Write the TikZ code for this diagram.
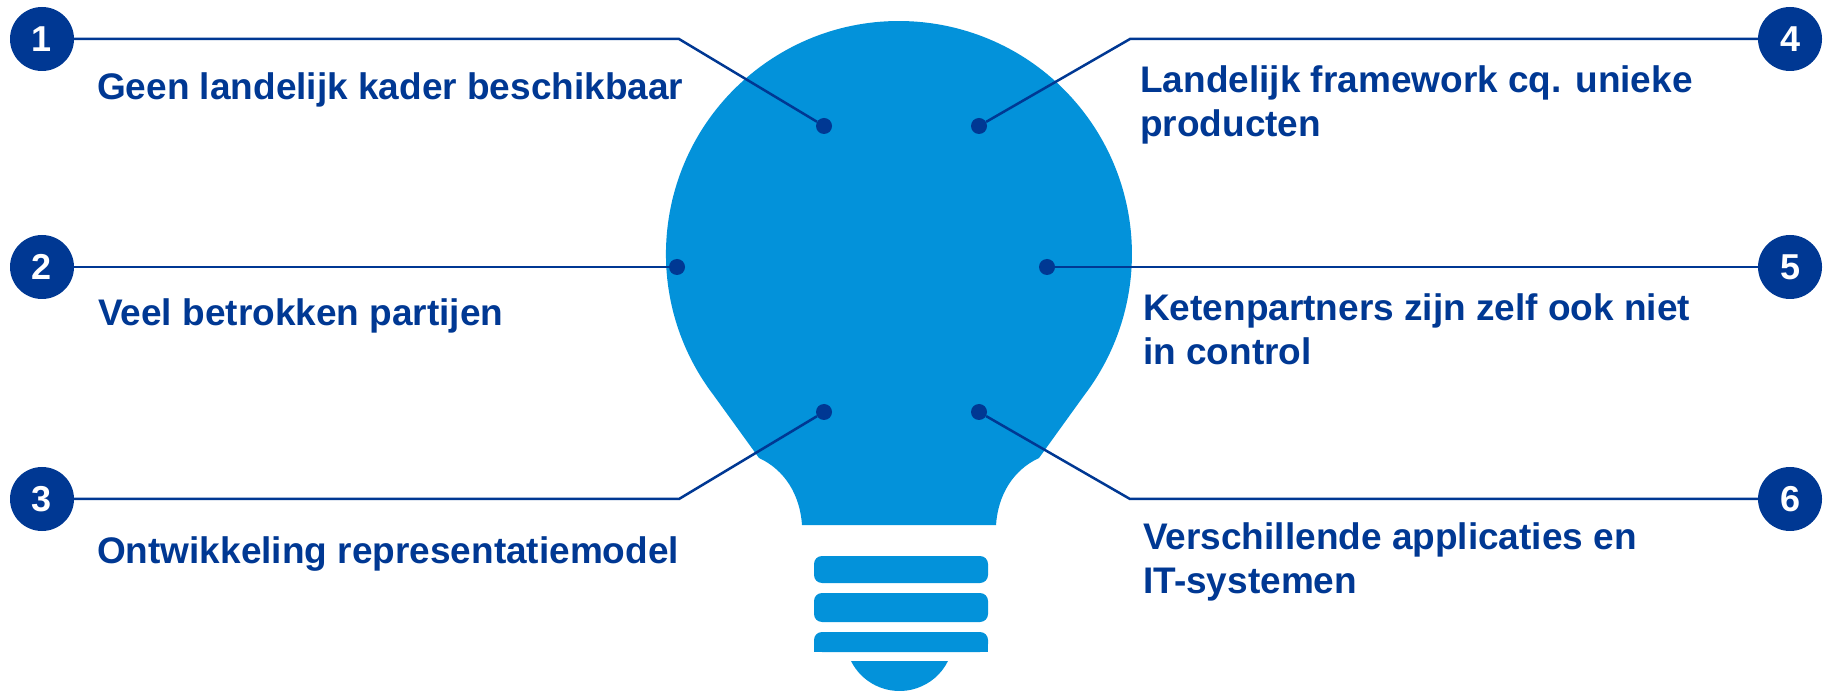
\documentclass[tikz,border=0pt]{standalone}
\usepackage{fontspec}
\setmainfont{Liberation Sans}
\usepackage{tikz}

\definecolor{bulbblue}{RGB}{3,146,218}
\definecolor{darkblue}{RGB}{0,56,147}

\begin{document}
\begin{tikzpicture}[x=1pt, y=1pt,
  numcirc/.style={circle, fill=darkblue, text=white, minimum size=64pt, inner sep=0pt, font=\bfseries\fontsize{36}{36}\selectfont},
  enddot/.style={circle, fill=darkblue, minimum size=16pt, inner sep=0pt},
  link/.style={darkblue, line width=2.5pt},
  itemtext/.style={anchor=base west, inner sep=0pt, align=left, text=darkblue, font=\bfseries\fontsize{37}{44}\selectfont}]

\useasboundingbox (0,0) rectangle (1830,691);

% Draw the bulb
\fill[bulbblue] (802,166) .. controls (800,196) and (785,221) .. (759,233)
  -- (713.6,295.8) arc[start angle=217.3, end angle=-37.3, radius=233]
  -- (1039,233) .. controls (1013,221) and (998,196) .. (996,166) -- cycle;

% Draw the screw base
\fill[bulbblue, rounded corners=8] (814,108) rectangle (988,135);
\fill[bulbblue, rounded corners=8] (814,69) rectangle (988,98);
\fill[bulbblue, rounded corners=8] (814,39) rectangle (988,59);
\fill[bulbblue] (814,39) rectangle (988,49);
\fill[bulbblue] (948,30) arc[start angle=-26.5, end angle=-153.5, radius=54.2] -- cycle;

% Numbered circles and dots
\foreach \i/\x/\y in {1/42/652, 2/42/424, 3/42/192, 4/1790/652, 5/1790/424, 6/1790/192}
  \node[numcirc] (n\i) at (\x,\y) {\i};
\foreach \i/\x/\y in {1/824/565, 2/677/424, 3/824/279, 4/979/565, 5/1047/424, 6/979/279}
  \node[enddot] (d\i) at (\x,\y) {};

% Bends of the lines
\coordinate (k1) at (679,652);
\coordinate (k3) at (679,192);
\coordinate (k4) at (1130,652);
\coordinate (k6) at (1130,192);

% Draw the lines
\draw[link] (n1) -- (k1) -- (d1);
\draw[link] (n2) -- (d2);
\draw[link] (n3) -- (k3) -- (d3);
\draw[link] (n4) -- (k4) -- (d4);
\draw[link] (n5) -- (d5);
\draw[link] (n6) -- (k6) -- (d6);

% Texts (base of the last line)
\node[itemtext] (t1) at (97,591) {Geen landelijk kader beschikbaar};
\node[itemtext] (t2) at (98,365) {Veel betrokken partijen};
\node[itemtext] (t3) at (97,128) {Ontwikkeling representatiemodel};
\node[itemtext] (t4) at (1140,554) {Landelijk framework cq. unieke\\producten};
\node[itemtext] (t5) at (1143,326) {Ketenpartners zijn zelf ook niet\\in control};
\node[itemtext] (t6) at (1143,98) {Verschillende applicaties en\\IT-systemen};

\end{tikzpicture}
\end{document}
